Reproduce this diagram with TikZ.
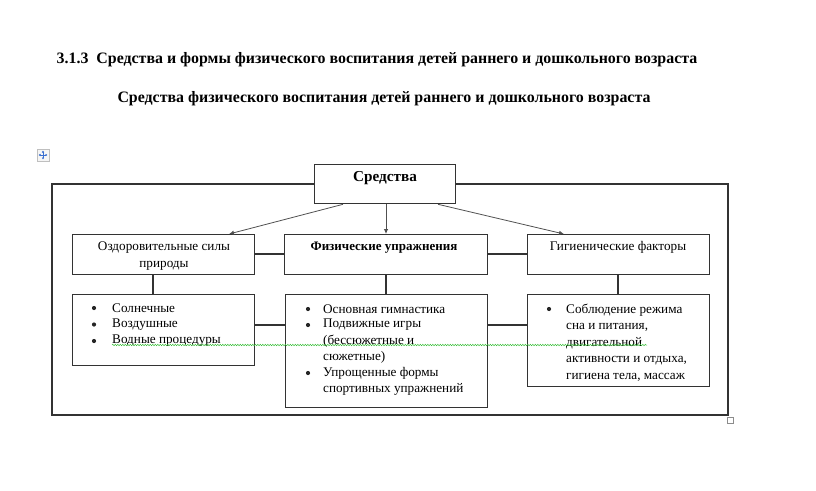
\documentclass[tikz,border=0pt]{standalone}
\usepackage{fontspec}
\setmainfont{Liberation Serif}
\usetikzlibrary{arrows.meta,decorations.pathmorphing}
\definecolor{ln}{HTML}{333333}
\definecolor{arr}{HTML}{505050}
\definecolor{wavy}{HTML}{3DBF3D}
\definecolor{iconblue}{HTML}{3A6FD0}
\tikzset{
  boxst/.style={draw=ln, line width=1.3pt, anchor=north west, inner sep=0pt, minimum width=#1},
  conn/.style={draw=ln, line width=1.3pt},
  arrst/.style={draw=arr, line width=0.8pt, -{Latex[length=5pt,width=4.5pt]}},
  txt/.style={inner sep=0pt, font=\fontsize{13.2}{16.5}\selectfont, align=left},
  bul/.style={circle, fill=black!85, inner sep=0pt, minimum size=4.2pt},
  ttl/.style={inner sep=0pt, font=\bfseries\fontsize{15.9}{18}\selectfont}
}
\begin{document}
\begin{tikzpicture}[x=1pt,y=-1pt]
\useasboundingbox (0,0) rectangle (816,490);
% titles
\node[ttl] (t1) at (377,60) {3.1.3\enspace Средства и формы физического воспитания детей раннего и дошкольного возраста};
\node[ttl] (t2) at (384,99) {Средства физического воспитания детей раннего и дошкольного возраста};
% move icon
\node[draw=black!25, fill=black!4, minimum width=12pt, minimum height=12pt, inner sep=0pt] (icon) at (43,155) {};
\draw[iconblue, line width=0.7pt, {Latex[length=2pt,width=2.5pt]}-{Latex[length=2pt,width=2.5pt]}] (icon.center)++(-4.5,0) -- ++(9,0);
\draw[iconblue, line width=0.7pt, {Latex[length=2pt,width=2.5pt]}-{Latex[length=2pt,width=2.5pt]}] (icon.center)++(0,-4.5) -- ++(0,9);
% top box
\node[boxst=141pt, minimum height=39pt] (sr) at (314,164) {};
\node[inner sep=0pt, font=\bfseries\fontsize{15.2}{17}\selectfont] (srt) at (385,178) {Средства};
% outer frame
\coordinate (fl) at (52,184);
\coordinate (fr) at (728,184);
\coordinate (fbl) at (52,415);
\coordinate (fbr) at (728,415);
\draw[conn] (sr.west |- fl) -- (fl) -- (fbl) -- (fbr) -- (fr) -- (sr.east |- fr);
\node[draw=black!45, line width=0.5pt, minimum width=6pt, minimum height=6pt, inner sep=0pt, fill=white] (hdl) at (730,420) {};
% row 2 boxes
\node[boxst=182pt, minimum height=40pt] (b1) at (72,234) {};
\node[boxst=203pt, minimum height=40pt] (b2) at (284,234) {};
\node[boxst=182pt, minimum height=40pt] (b3) at (527,234) {};
\node[inner sep=0pt, align=center, font=\fontsize{13.2}{16.8}\selectfont, anchor=north] (b1t) at (164,241.5) {Оздоровительные силы\\природы};
\node[inner sep=0pt, font=\bfseries\fontsize{13}{14}\selectfont, anchor=north] (b2t) at (384,241.5) {Физические упражнения};
\node[inner sep=0pt, font=\fontsize{13.2}{14}\selectfont, anchor=north] (b3t) at (618,241.5) {Гигиенические факторы};
% arrows
\draw[arrst] (sr.south -| 343,0) -- (b1.north -| 229,0);
\draw[arrst] (sr.south -| 386,0) -- (b2.north -| 386,0);
\draw[arrst] (sr.south -| 438,0) -- (b3.north -| 564,0);
% row 3 boxes
\node[boxst=182pt, minimum height=71pt] (c1) at (72,294) {};
\node[boxst=202pt, minimum height=113pt] (c2) at (285,294) {};
\node[boxst=182pt, minimum height=92pt] (c3) at (527,294) {};
% connectors
\draw[conn] (b1.east |- 0,254) -- (b2.west |- 0,254);
\draw[conn] (b2.east |- 0,254) -- (b3.west |- 0,254);
\draw[conn] (c1.east |- 0,325) -- (c2.west |- 0,325);
\draw[conn] (c2.east |- 0,325) -- (c3.west |- 0,325);
\draw[conn] (b1.south -| 153,0) -- (c1.north -| 153,0);
\draw[conn] (b2.south -| 386,0) -- (c2.north -| 386,0);
\draw[conn] (b3.south -| 618,0) -- (c3.north -| 618,0);
% left list
\node[bul] (l1b) at (94,308) {};
\node[bul] (l2b) at (94,324.5) {};
\node[bul] (l3b) at (94,341) {};
\node[txt, anchor=west] (l1) at (112,308) {Солнечные};
\node[txt, anchor=west] (l2) at (112,324.5) {Воздушные};
\node[txt, anchor=west] (l3) at (112,341) {Водные процедуры};
% middle list
\node[bul] (m1b) at (308,309) {};
\node[bul] (m2b) at (308,325) {};
\node[bul] (m3b) at (308,373) {};
\node[txt, anchor=west] (m1) at (323,309) {Основная гимнастика};
\node[txt, anchor=north west] (m2) at (323,319) {Подвижные игры\\(бессюжетные и\\сюжетные)};
\node[txt, anchor=north west] (m3) at (323,367) {Упрощенные формы\\спортивных упражнений};
% right list
\node[bul] (r1b) at (549,309) {};
\node[txt, anchor=north west] (r1) at (566,303.5) {Соблюдение режима\\сна и питания,\\двигательной\\активности и отдыха,\\гигиена тела, массаж};
% spell-check wavy line
\coordinate (wa) at (112,345);
\coordinate (wb) at (647,345);
\draw[wavy, line width=0.5pt, decorate, decoration={snake, amplitude=0.7pt, segment length=2.5pt}] (wa) -- (wb);
\end{tikzpicture}
\end{document}
